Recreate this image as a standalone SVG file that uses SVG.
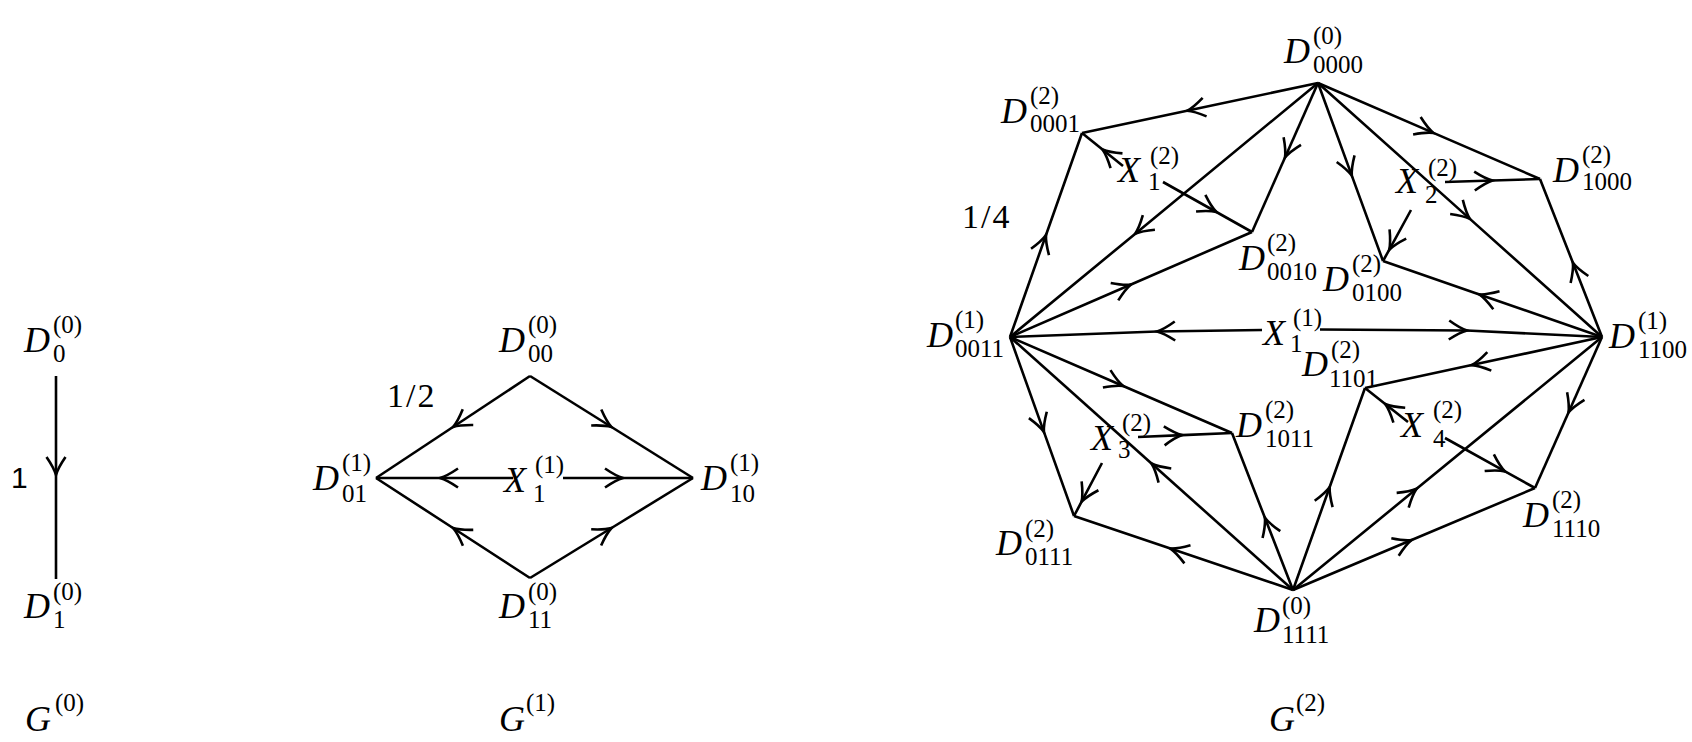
<svg xmlns="http://www.w3.org/2000/svg" width="1692" height="742" viewBox="0 0 1692 742">
<style>
.e{fill:none;stroke:#000;stroke-width:2.6;marker-mid:url(#ah)}
.m{font-family:"Liberation Serif",serif;font-style:italic;font-size:36px}
.s{font-family:"Liberation Serif",serif;font-size:25px;font-style:normal}
.f{font-family:"Liberation Serif",serif;font-size:34px;letter-spacing:2px}
.a{font-family:"Liberation Sans",sans-serif;font-size:30px}
</style>
<defs>
<marker id="ah" markerUnits="userSpaceOnUse" viewBox="-20 -12 24 24" refX="0" refY="0" markerWidth="24" markerHeight="24" orient="auto" overflow="visible">
<path d="M-18,-9.5 Q-7,-2 0,0 Q-7,2 -18,9.5" fill="none" stroke="#000" stroke-width="2.6"/>
</marker>
</defs>
<rect width="1692" height="742" fill="#fff"/>
<g id="connectors">
<polyline class="e" points="56,376 56,475 56,579"/>
<polyline class="e" points="530,376 453,427 376,478"/>
<polyline class="e" points="530,376 611.5,427 693,478"/>
<polyline class="e" points="530,578 453,528 376,478"/>
<polyline class="e" points="530,578 611.5,528 693,478"/>
<polyline class="e" points="513,478 440,478 376,478"/>
<polyline class="e" points="563,478 623,478 693,478"/>
<polyline class="e" points="1318,83 1187,110.8 1082,133"/>
<polyline class="e" points="1318,83 1285,157.5 1252,232"/>
<polyline class="e" points="1318,83 1135,233.9 1010,337"/>
<polyline class="e" points="1318,83 1351.8,175.6 1383,261"/>
<polyline class="e" points="1318,83 1469.9,218.9 1602,337"/>
<polyline class="e" points="1318,83 1433.4,132.9 1540,179"/>
<polyline class="e" points="1123,166 1102.5,149.5 1082,133"/>
<polyline class="e" points="1163,182 1216.4,212 1252,232"/>
<polyline class="e" points="1010,337 1046,235 1082,133"/>
<polyline class="e" points="1010,337 1131,284.5 1252,232"/>
<polyline class="e" points="1262,330 1157,331.5 1010,337"/>
<polyline class="e" points="1320,329.5 1467,330.5 1602,337"/>
<polyline class="e" points="1602,337 1479.4,294.4 1383,261"/>
<polyline class="e" points="1602,337 1572.9,262.7 1540,179"/>
<polyline class="e" points="1602,337 1471.7,365.1 1365,388"/>
<polyline class="e" points="1602,337 1568.5,412.5 1535,488"/>
<polyline class="e" points="1445,182 1492.5,180.5 1540,179"/>
<polyline class="e" points="1411,210 1389.2,249.8 1383,261"/>
<polyline class="e" points="1408,422 1385.2,404 1365,388"/>
<polyline class="e" points="1445,438 1505,471.4 1535,488"/>
<polyline class="e" points="1138,437 1182.2,435.1 1232,433"/>
<polyline class="e" points="1102,463 1081.6,501.7 1074,516"/>
<polyline class="e" points="1010,337 1043.9,431.9 1074,516"/>
<polyline class="e" points="1010,337 1123.2,386 1232,433"/>
<polyline class="e" points="1293,590 1151.5,463.5 1010,337"/>
<polyline class="e" points="1293,590 1170.4,548.6 1074,516"/>
<polyline class="e" points="1293,590 1264.9,517.8 1232,433"/>
<polyline class="e" points="1293,590 1329.7,487 1365,388"/>
<polyline class="e" points="1293,590 1416.6,488.8 1602,337"/>
<polyline class="e" points="1293,590 1411.6,540 1535,488"/>
</g>
<g id="g0-D0"><text class="m" x="24" y="352">D<tspan class="s" x="53" y="333">(0)</tspan><tspan class="s" x="53" y="362">0</tspan></text></g>
<g id="g0-D1"><text class="m" x="24" y="618">D<tspan class="s" x="53" y="600">(0)</tspan><tspan class="s" x="53" y="628">1</tspan></text></g>
<g id="g0-w"><text class="a" x="11" y="488">1</text></g>
<g id="g0-title"><text class="m" x="25" y="731">G<tspan class="s" x="55" y="711">(0)</tspan></text></g>
<g id="g1-D00"><text class="m" x="499" y="352">D<tspan class="s" x="528" y="333">(0)</tspan><tspan class="s" x="528" y="362">00</tspan></text></g>
<g id="g1-D01"><text class="m" x="313" y="490">D<tspan class="s" x="342" y="471">(1)</tspan><tspan class="s" x="342" y="502">01</tspan></text></g>
<g id="g1-D10"><text class="m" x="701" y="490">D<tspan class="s" x="730" y="471">(1)</tspan><tspan class="s" x="730" y="502">10</tspan></text></g>
<g id="g1-D11"><text class="m" x="499" y="618">D<tspan class="s" x="528" y="600">(0)</tspan><tspan class="s" x="528" y="628">11</tspan></text></g>
<g id="g1-X1"><text class="m" x="504" y="492">X<tspan class="s" x="535" y="473">(1)</tspan><tspan class="s" x="533" y="502">1</tspan></text></g>
<g id="g1-w"><text class="f" x="387" y="407">1/2</text></g>
<g id="g1-title"><text class="m" x="499" y="731">G<tspan class="s" x="526" y="711">(1)</tspan></text></g>
<g id="g2-D0000"><text class="m" x="1284" y="63">D<tspan class="s" x="1313" y="44">(0)</tspan><tspan class="s" x="1313" y="73">0000</tspan></text></g>
<g id="g2-D0001"><text class="m" x="1001" y="123">D<tspan class="s" x="1030" y="104">(2)</tspan><tspan class="s" x="1030" y="132">0001</tspan></text></g>
<g id="g2-D1000"><text class="m" x="1553" y="182">D<tspan class="s" x="1582" y="163">(2)</tspan><tspan class="s" x="1582" y="190">1000</tspan></text></g>
<g id="g2-X1"><text class="m" x="1118" y="182">X<tspan class="s" x="1150" y="164">(2)</tspan><tspan class="s" x="1148" y="190">1</tspan></text></g>
<g id="g2-X2"><text class="m" x="1396" y="193">X<tspan class="s" x="1428" y="176">(2)</tspan><tspan class="s" x="1425" y="203">2</tspan></text></g>
<g id="g2-w"><text class="f" x="962" y="228">1/4</text></g>
<g id="g2-D0010"><text class="m" x="1239" y="270">D<tspan class="s" x="1267" y="251">(2)</tspan><tspan class="s" x="1267" y="280">0010</tspan></text></g>
<g id="g2-D0100"><text class="m" x="1323" y="291">D<tspan class="s" x="1352" y="272">(2)</tspan><tspan class="s" x="1352" y="301">0100</tspan></text></g>
<g id="g2-D0011"><text class="m" x="927" y="347">D<tspan class="s" x="955" y="328">(1)</tspan><tspan class="s" x="955" y="357">0011</tspan></text></g>
<g id="g2-D1100"><text class="m" x="1609" y="348">D<tspan class="s" x="1638" y="329">(1)</tspan><tspan class="s" x="1638" y="358">1100</tspan></text></g>
<g id="g2-X11"><text class="m" x="1263" y="345">X<tspan class="s" x="1293" y="326">(1)</tspan><tspan class="s" x="1290" y="352">1</tspan></text></g>
<g id="g2-D1101"><text class="m" x="1302" y="376">D<tspan class="s" x="1331" y="358">(2)</tspan><tspan class="s" x="1329" y="387">1101</tspan></text></g>
<g id="g2-D1011"><text class="m" x="1236" y="437">D<tspan class="s" x="1265" y="418">(2)</tspan><tspan class="s" x="1265" y="447">1011</tspan></text></g>
<g id="g2-X3"><text class="m" x="1091" y="450">X<tspan class="s" x="1122" y="431">(2)</tspan><tspan class="s" x="1118" y="458">3</tspan></text></g>
<g id="g2-X4"><text class="m" x="1401" y="437">X<tspan class="s" x="1433" y="418">(2)</tspan><tspan class="s" x="1433" y="447">4</tspan></text></g>
<g id="g2-D0111"><text class="m" x="996" y="555">D<tspan class="s" x="1025" y="537">(2)</tspan><tspan class="s" x="1025" y="565">0111</tspan></text></g>
<g id="g2-D1110"><text class="m" x="1523" y="527">D<tspan class="s" x="1552" y="508">(2)</tspan><tspan class="s" x="1552" y="537">1110</tspan></text></g>
<g id="g2-D1111"><text class="m" x="1254" y="632">D<tspan class="s" x="1282" y="614">(0)</tspan><tspan class="s" x="1282" y="643">1111</tspan></text></g>
<g id="g2-title"><text class="m" x="1269" y="731">G<tspan class="s" x="1296" y="711">(2)</tspan></text></g>
</svg>
